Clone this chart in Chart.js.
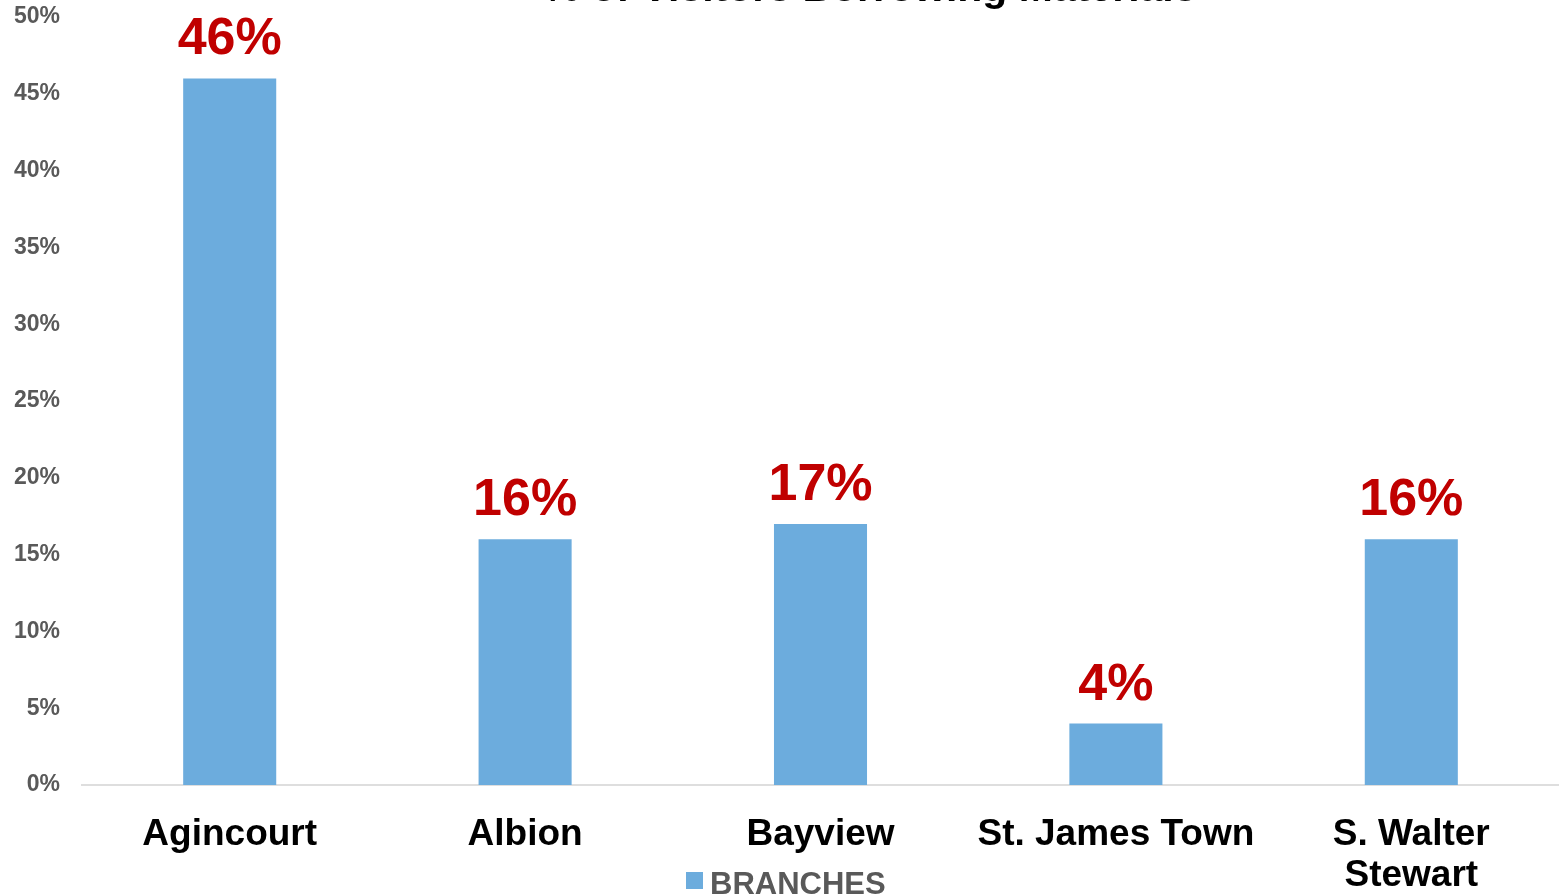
<!DOCTYPE html>
<html>
<head>
<meta charset="utf-8">
<script src="https://cdn.jsdelivr.net/npm/chart.js@4/dist/chart.umd.min.js"></script>
<style>
  html, body { margin: 0; padding: 0; background: #ffffff; overflow: hidden; }
  #wrap { width: 1559px; height: 894px; position: relative; }
</style>
</head>
<body>
<div id="wrap"><canvas id="c"></canvas></div>
<script>
const titleText = "% of Visitors Borrowing Materials";
const categories = ["Agincourt", "Albion", "Bayview", "St. James Town", ["S. Walter", "Stewart"]];
const seriesName = "BRANCHES";
const values = [46, 16, 17, 4, 16];
const yTicks = [0, 5, 10, 15, 20, 25, 30, 35, 40, 45, 50];

const FONT = '"Liberation Sans", Arial, Helvetica, sans-serif';
const BAR_COLOR = '#6CACDD';

const titlePlugin = {
  id: 'clippedTitle',
  afterDraw(chart) {
    const ctx = chart.ctx;
    ctx.save();
    ctx.font = 'bold 41px ' + FONT;
    ctx.fillStyle = '#000000';
    ctx.textAlign = 'center';
    ctx.textBaseline = 'alphabetic';
    ctx.fillText(titleText, 870, 1);
    ctx.restore();
  }
};

const bottomLegend = {
  id: 'bottomLegend',
  afterDraw(chart) {
    const ctx = chart.ctx;
    const ds = chart.data.datasets[0];
    ctx.save();
    ctx.fillStyle = ds.backgroundColor;
    ctx.fillRect(686, 872, 17, 17);
    ctx.font = 'bold 31px ' + FONT;
    ctx.fillStyle = '#595959';
    ctx.textAlign = 'left';
    ctx.textBaseline = 'alphabetic';
    ctx.fillText(ds.label, 710, 894);
    ctx.restore();
  }
};

const valueLabels = {
  id: 'valueLabels',
  afterDatasetsDraw(chart) {
    const ctx = chart.ctx;
    const meta = chart.getDatasetMeta(0);
    ctx.save();
    ctx.font = 'bold 52px ' + FONT;
    ctx.fillStyle = '#C00000';
    ctx.textAlign = 'center';
    ctx.textBaseline = 'alphabetic';
    meta.data.forEach((bar, i) => {
      ctx.fillText(values[i] + '%', bar.x, bar.y - 24);
    });
    ctx.restore();
  }
};

new Chart(document.getElementById('c'), {
  type: 'bar',
  data: {
    labels: categories,
    datasets: [{
      label: seriesName,
      data: values,
      backgroundColor: BAR_COLOR,
      borderWidth: 0,
      categoryPercentage: 1.0,
      barPercentage: 0.315
    }]
  },
  options: {
    responsive: true,
    maintainAspectRatio: false,
    animation: false,
    layout: { padding: { top: 17, right: 0, left: 0, bottom: 0 } },
    plugins: {
      title: { display: false },
      tooltip: { enabled: false },
      legend: { display: false }
    },
    scales: {
      x: {
        grid: { display: false, drawTicks: false },
        border: { display: true, color: '#dedede', width: 2 },
        ticks: {
          color: '#000000',
          padding: 29,
          maxRotation: 0,
          autoSkip: false,
          font: { family: FONT, size: 37, weight: 'bold', lineHeight: 1.12 }
        },
        afterFit(scale) {
          scale.height = 109;
          scale.paddingLeft = 0; scale.paddingRight = 0;
        }
      },
      y: {
        min: 0,
        max: 50,
        afterBuildTicks(scale) { scale.ticks = yTicks.map(v => ({ value: v })); },
        grid: { display: false, drawTicks: false },
        border: { display: false },
        ticks: {
          color: '#595959',
          padding: 22,
          font: { family: FONT, size: 23, weight: 'bold' },
          callback: (v) => v + '%'
        },
        afterFit(scale) {
          scale.width = 82;
          scale.paddingTop = 0; scale.paddingBottom = 0;
        }
      }
    }
  },
  plugins: [titlePlugin, valueLabels, bottomLegend]
});
</script>
</body>
</html>
